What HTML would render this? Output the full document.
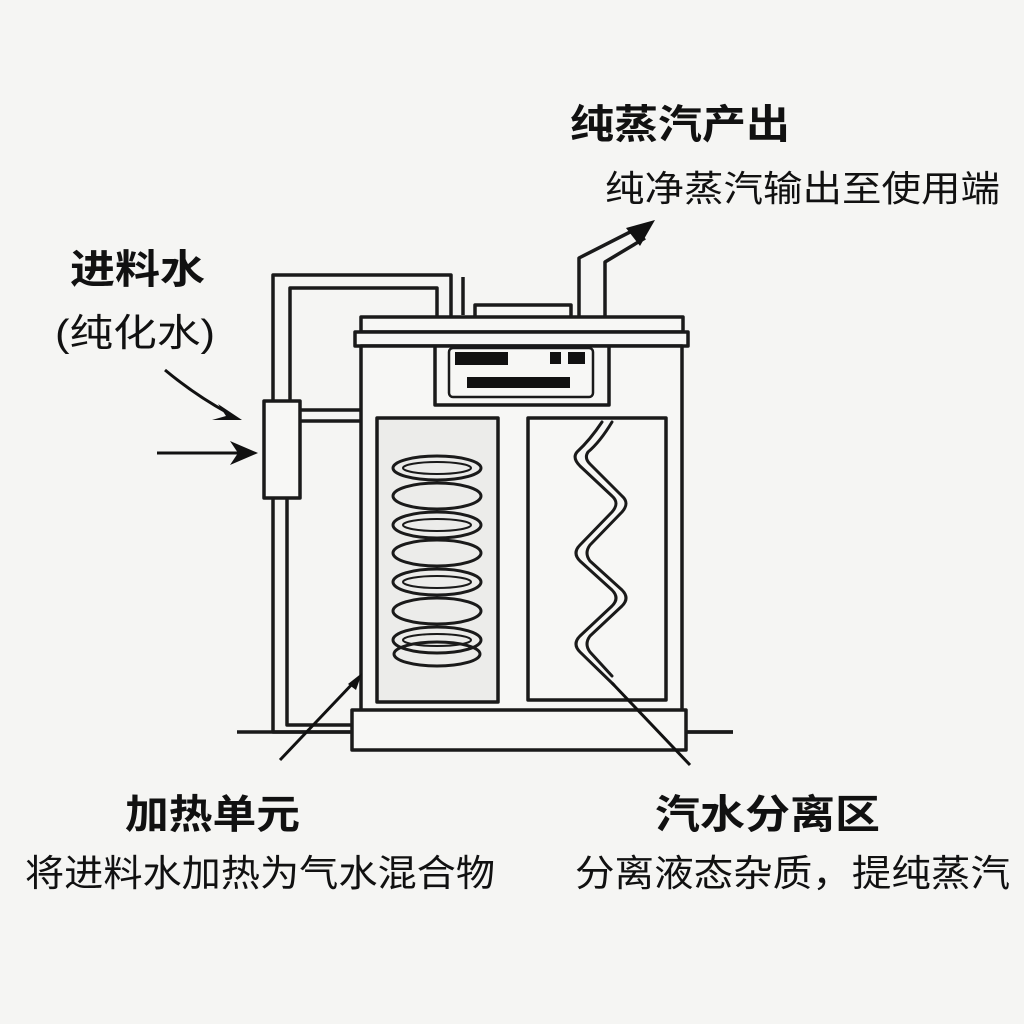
<!DOCTYPE html>
<html><head><meta charset="utf-8"><style>
html,body{margin:0;padding:0;background:#f5f5f3;}
svg{display:block}
text{font-family:"Liberation Sans","Noto Sans CJK SC",sans-serif;fill:#111;}
.b{font-weight:bold}
</style></head><body>
<svg width="1024" height="1024" viewBox="0 0 1024 1024" xmlns="http://www.w3.org/2000/svg">
<rect width="1024" height="1024" fill="#f5f5f3"/>
<g fill="none" stroke="#1a1a1a" stroke-width="3.5" stroke-linejoin="round">
<line x1="237" y1="732" x2="733" y2="732"/>
<path d="M273 401 V275 H451 V317"/>
<path d="M290 401 V288 H437 V317"/>
<path d="M273 498 V732 H352"/>
<path d="M287 498 V725 H352"/>
<line x1="463" y1="277" x2="463" y2="315"/>
<line x1="300" y1="410" x2="361" y2="410"/>
<line x1="300" y1="421" x2="361" y2="421"/>
<rect x="264" y="401" width="36" height="97" fill="#f7f7f5"/>
<rect x="475" y="305" width="96" height="13" fill="#f7f7f5"/>
<path d="M579 317 V258 L638 228"/>
<path d="M605 317 V262 L645 238"/>
<rect x="361" y="317" width="322" height="15" fill="#f7f7f5"/>
<rect x="355" y="332" width="333" height="14" fill="#f7f7f5"/>
<rect x="361" y="346" width="321" height="365" fill="#f7f7f5"/>
<path d="M435 346 V405 H609 V346"/>
<rect x="449" y="348" width="144" height="49" rx="4" stroke-width="2.5"/>
<rect x="377" y="418" width="121" height="284" fill="#ececea"/>
<rect x="528" y="418" width="138" height="282"/>
<rect x="352" y="710" width="334" height="40" fill="#f7f7f5"/>
<line x1="686" y1="732" x2="733" y2="732"/>
</g>
<g fill="#111">
<rect x="455" y="352" width="53" height="13"/>
<rect x="550" y="352" width="11" height="12"/>
<rect x="568" y="352" width="17" height="12"/>
<rect x="467" y="377" width="103" height="11"/>
</g>
<g fill="none" stroke="#1a1a1a" stroke-width="3">
<ellipse cx="437" cy="468" rx="44" ry="12"/>
<ellipse cx="437" cy="496" rx="44" ry="13"/>
<ellipse cx="437" cy="525" rx="44" ry="13"/>
<ellipse cx="437" cy="553" rx="44" ry="13"/>
<ellipse cx="437" cy="582" rx="44" ry="13"/>
<ellipse cx="437" cy="611" rx="44" ry="13"/>
<ellipse cx="437" cy="640" rx="44" ry="13"/>
<ellipse cx="437" cy="654" rx="43" ry="12"/>
<ellipse cx="437" cy="468" rx="34" ry="6" stroke-width="2"/>
<ellipse cx="437" cy="525" rx="34" ry="6" stroke-width="2"/>
<ellipse cx="437" cy="582" rx="34" ry="6" stroke-width="2"/>
<ellipse cx="437" cy="640" rx="34" ry="6" stroke-width="2"/>
</g>
<g fill="none" stroke="#1a1a1a" stroke-width="3" stroke-linejoin="round" stroke-linecap="round">
<path d="M602 422 Q590 440 577 452 Q572 458 580 466 L612 496 Q620 503 612 512 L580 545 Q572 553 580 561 L612 590 Q620 598 612 606 L580 636 Q572 644 580 652 L614 685"/>
<path d="M612 422 Q600 442 588 452 Q584 458 590 464 L622 496 Q630 503 622 512 L590 545 Q584 553 590 561 L622 590 Q630 598 622 606 L590 636 Q584 644 590 652 L612 676"/>
</g>
<g stroke="#111" stroke-width="3" fill="none">
<line x1="280" y1="760" x2="356" y2="680"/>
<line x1="612" y1="683" x2="690" y2="765"/>
<line x1="157" y1="453" x2="240" y2="453"/>
<path d="M165 370 Q195 395 228 413"/>
</g>
<g fill="#111">
<polygon points="362,673 348,684 356,690"/>
<polygon points="258,453 230,441 238,453 230,465"/>
<polygon points="242,420 218,404 226,416 212,420"/>
<polygon points="655,220 626,228 640,246"/>
</g>
<text x="570" y="138" class="b" font-size="40" textLength="220" lengthAdjust="spacingAndGlyphs">纯蒸汽产出</text>
<text x="605" y="201" font-size="36" textLength="395" lengthAdjust="spacingAndGlyphs">纯净蒸汽输出至使用端</text>
<text x="70" y="283" class="b" font-size="40" textLength="135" lengthAdjust="spacingAndGlyphs">进料水</text>
<text x="55" y="346" font-size="38" textLength="160" lengthAdjust="spacingAndGlyphs">(纯化水)</text>
<text x="125" y="828" class="b" font-size="40" textLength="175" lengthAdjust="spacingAndGlyphs">加热单元</text>
<text x="25" y="886" font-size="37" textLength="470" lengthAdjust="spacingAndGlyphs">将进料水加热为气水混合物</text>
<text x="655" y="828" class="b" font-size="40" textLength="225" lengthAdjust="spacingAndGlyphs">汽水分离区</text>
<text x="575" y="886" font-size="37" textLength="435" lengthAdjust="spacingAndGlyphs">分离液态杂质，提纯蒸汽</text>
</svg>
</body></html>
